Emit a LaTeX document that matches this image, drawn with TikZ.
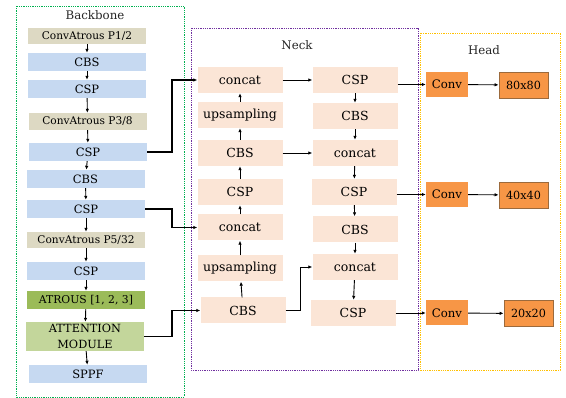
\documentclass[tikz,border=0pt]{standalone}
\usepackage{fontspec}
\setmainfont{DejaVu Serif}
\usepackage{xcolor}
\usepackage{tikz}
\usetikzlibrary{arrows.meta,positioning,calc}
\definecolor{bbtan}{HTML}{DDD9C3}
\definecolor{bbblue}{HTML}{C6D9F1}
\definecolor{bbolive}{HTML}{9BBB59}
\definecolor{bbgreen}{HTML}{C3D69B}
\definecolor{neckfill}{HTML}{FBE5D6}
\definecolor{headfill}{HTML}{F79646}
\definecolor{headline}{HTML}{9C6A3C}
\definecolor{framegreen}{HTML}{00B050}
\definecolor{framepurple}{HTML}{7030A0}
\definecolor{frameyellow}{HTML}{FFC000}
\definecolor{txt}{HTML}{000000}

\begin{document}
\begin{tikzpicture}[x=1pt, y=-1pt,
    layer/.style={rectangle, fill=#1, text=txt, inner sep=0pt, minimum width=118pt, minimum height=18pt, font=\fontsize{11.5}{14}\selectfont},
    atrous/.style={layer=bbtan, minimum height=16pt, font=\fontsize{10.6}{12}\selectfont},
    neckbox/.style={rectangle, fill=neckfill, text=txt, inner sep=0pt, minimum width=85pt, minimum height=26pt, font=\fontsize{12.5}{14}\selectfont},
    headbox/.style={rectangle, fill=headfill, text=txt, inner sep=0pt, minimum width=42pt, minimum height=25pt, font=\fontsize{11.7}{14}\selectfont},
    outbox/.style={headbox, draw=headline, line width=0.8pt, minimum width=49pt, minimum height=26pt, font=\fontsize{11.2}{14}\selectfont},
    frame/.style={densely dotted, line width=0.8pt, draw=#1},
    title/.style={text=black!85, font=\fontsize{11.8}{14}\selectfont},
    conn/.style={-{Latex[length=4pt,width=3.5pt]}, line width=0.9pt}
]
    \useasboundingbox (0,0) rectangle (566,398);

    \draw[frame=framegreen] (16,6) rectangle (184,397);
    \draw[frame=framepurple] (191,28) rectangle (418,370);
    \draw[frame=frameyellow] (420,33) rectangle (560,370);
    \node[title] (tback) at (95,15) {Backbone};
    \node[title] (tneck) at (297,45) {Neck};
    \node[title] (thead) at (484,50) {Head};

    \node[atrous] (bconv1) at (87,36) {ConvAtrous P1/2};
    \node[layer=bbblue] (bcbs1) at (87,62) {CBS};
    \node[layer=bbblue] (bcsp1) at (87,89) {CSP};
    \node[atrous, minimum height=17pt] (bconv2) at (87.5,121.5) {ConvAtrous P3/8};
    \node[layer=bbblue] (bcsp2) at (88,152) {CSP};
    \node[layer=bbblue] (bcbs2) at (85.5,179) {CBS};
    \node[layer=bbblue] (bcsp3) at (86,209) {CSP};
    \node[atrous] (bconv3) at (86,240) {ConvAtrous P5/32};
    \node[layer=bbblue] (bcsp4) at (86,271) {CSP};
    \node[layer=bbolive, font=\fontsize{10.8}{14}\selectfont] (batrous) at (86,300) {ATROUS [1, 2, 3]};
    \node[layer=bbgreen, minimum height=29pt, align=center, font=\fontsize{11.3}{15.5}\selectfont] (battn) at (85,336.5) {ATTENTION\\MODULE};
    \node[layer=bbblue] (bsppf) at (88,374) {SPPF};

    \node[neckbox] (nconcat1) at (240,80) {concat};
    \node[neckbox] (nup1) at (240,115) {upsampling};
    \node[neckbox] (ncbs1) at (240,153) {CBS};
    \node[neckbox] (ncsp1) at (240,192) {CSP};
    \node[neckbox] (nconcat2) at (240,227.5) {concat};
    \node[neckbox] (nup2) at (240,268.5) {upsampling};
    \node[neckbox] (ncbs2) at (243,310.5) {CBS};

    \node[neckbox] (ncsp2) at (355,80) {CSP};
    \node[neckbox] (ncbs3) at (355,116) {CBS};
    \node[neckbox] (nconcat3) at (355,153) {concat};
    \node[neckbox] (ncsp3) at (354,192) {CSP};
    \node[neckbox] (ncbs4) at (355,229.5) {CBS};
    \node[neckbox] (nconcat4) at (355,267) {concat};
    \node[neckbox] (ncsp4) at (353,313) {CSP};

    \node[headbox] (hconv1) at (447,84.5) {Conv};
    \node[outbox] (hout1) at (523.5,85) {80x80};
    \node[headbox] (hconv2) at (447,194.5) {Conv};
    \node[outbox] (hout2) at (523.5,195) {40x40};
    \node[headbox] (hconv3) at (447,313) {Conv};
    \node[outbox] (hout3) at (528.5,313.5) {20x20};

    \coordinate (busx) at (172,0);
    \coordinate (neckx) at (300,0);

    \foreach \a/\b in {bconv1/bcbs1, bcbs1/bcsp1, bcsp1/bconv2, bconv2/bcsp2, bcsp2/bcbs2,
                       bcbs2/bcsp3, bcsp3/bconv3, bconv3/bcsp4, bcsp4/batrous, batrous/battn, battn/bsppf}
        \draw[conn] (\a) -- (\b);

    \foreach \a/\b in {nup1/nconcat1, ncbs1/nup1, ncsp1/ncbs1, nconcat2/ncsp1, nup2/nconcat2, ncbs2/nup2,
                       ncsp2/ncbs3, ncbs3/nconcat3, nconcat3/ncsp3, ncsp3/ncbs4, ncbs4/nconcat4, nconcat4/ncsp4}
        \draw[conn] (\a) -- (\b);

    \draw[conn, line width=1.1pt] (bcsp2.east) -- (bcsp2.east -| busx) |- (nconcat1.west);
    \draw[conn, line width=1.1pt] (bcsp3.east) -- (bcsp3.east -| busx) |- (nconcat2.west);
    \draw[conn, line width=1.1pt] (battn.east) -- (battn.east -| busx) |- (ncbs2.west);

    \draw[conn] (nconcat1) -- (ncsp2);
    \draw[conn] (ncbs1) -- (nconcat3);
    \draw[conn] (ncbs2.east) -- (ncbs2.east -| neckx) |- (nconcat4.west);

    \draw[conn] (ncsp2.east |- hconv1.west) -- (hconv1.west);
    \draw[conn] (ncsp3.east |- hconv2.west) -- (hconv2.west);
    \draw[conn] (ncsp4.east |- hconv3.west) -- (hconv3.west);

    \draw[conn] (hconv1) -- (hout1);
    \draw[conn] (hconv2) -- (hout2);
    \draw[conn] (hconv3) -- (hout3);
\end{tikzpicture}
\end{document}
